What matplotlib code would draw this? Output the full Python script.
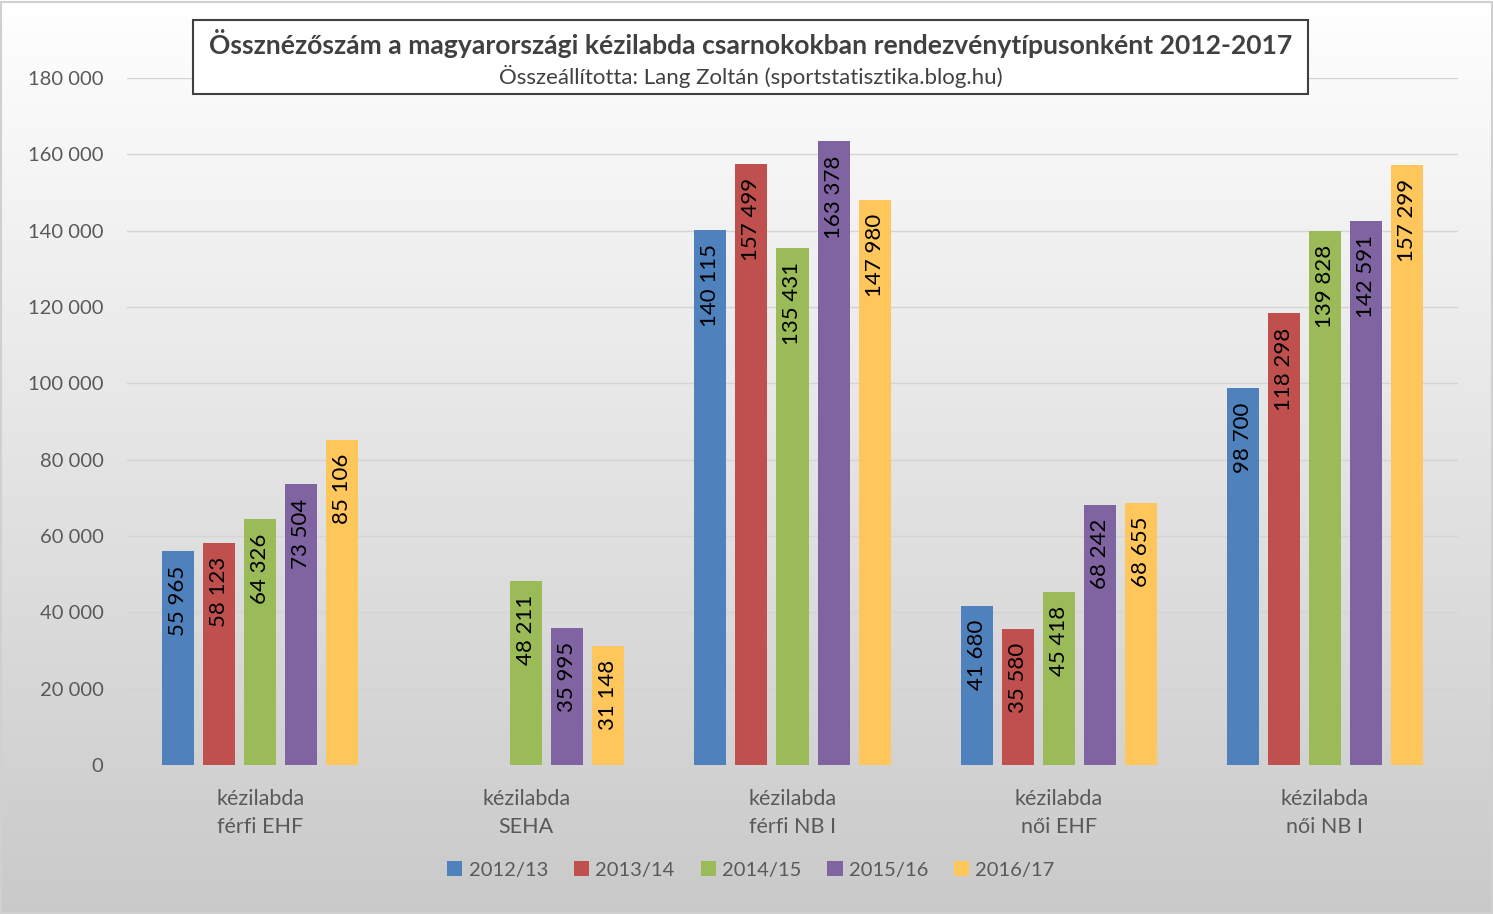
import matplotlib
matplotlib.use("Agg")
import matplotlib.pyplot as plt
import numpy as np
from matplotlib.patches import Rectangle
from matplotlib.ticker import FuncFormatter

categories = ["kézilabda\nférfi EHF", "kézilabda\nSEHA", "kézilabda\nférfi NB I",
              "kézilabda\nnői EHF", "kézilabda\nnői NB I"]
seasons = ["2012/13", "2013/14", "2014/15", "2015/16", "2016/17"]
v2012 = [55965, None, 140115, 41680, 98700]
v2013 = [58123, None, 157499, 35580, 118298]
v2014 = [64326, 48211, 135431, 45418, 139828]
v2015 = [73504, 35995, 163378, 68242, 142591]
v2016 = [85106, 31148, 147980, 68655, 157299]
series = [v2012, v2013, v2014, v2015, v2016]
colors = ["#4F81BD", "#C0504D", "#9BBB59", "#8064A2", "#FFC65C"]

title = "Össznézőszám a magyarországi kézilabda csarnokokban rendezvénytípusonként 2012-2017"
subtitle = "Összeállította: Lang Zoltán (sportstatisztika.blog.hu)"

plt.rcParams['font.family'] = ['Lato', 'DejaVu Sans']

W, H = 1493, 914
fig = plt.figure(figsize=(W / 100, H / 100), dpi=100)

# background gradient
bg = fig.add_axes([0, 0, 1, 1], zorder=-10)
grad = np.linspace(0, 1, 256).reshape(-1, 1)
top = np.array([1.0, 1.0, 1.0])
bot = np.array([0.79, 0.79, 0.79])
img = top[None, None, :] * (1 - grad[:, :, None]) + bot[None, None, :] * grad[:, :, None]
bg.imshow(img, aspect='auto', extent=[0, 1, 0, 1], origin='upper')
bg.set_xlim(0, 1); bg.set_ylim(0, 1)
bg.axis('off')
bg.add_patch(Rectangle((0.001, 0.001), 0.998, 0.997, fill=False, edgecolor="#d0d0d0", lw=1.5,
                       transform=bg.transAxes))

ax = fig.add_axes([127 / W, 1 - 765 / H, (1458 - 127) / W, (765 - 78) / H])
ax.patch.set_alpha(0)

x = np.arange(len(categories))
step = 41 / 266
bw = 32 / 266
for i, (vals, c, lab) in enumerate(zip(series, colors, seasons)):
    xs = x + (i - 2) * step
    hs = [v if v is not None else 0 for v in vals]
    ax.bar(xs, hs, width=bw, color=c, label=lab, zorder=3)
    for xi, v in zip(xs, vals):
        if v is None:
            continue
        txt = f"{v:,}".replace(",", " ")
        ax.annotate(txt, (xi, v), xytext=(0, -10), textcoords='offset points',
                    rotation=90, ha='center', va='top', fontsize=16, color='black', zorder=4)

ax.set_xlim(-0.5, 4.5)
ax.set_ylim(0, 180000)
ax.set_yticks(np.arange(0, 180001, 20000))
ax.yaxis.set_major_formatter(FuncFormatter(lambda v, p: f"{int(v):,}".replace(",", " ")))
ax.grid(axis='y', color='#d4d4d4', lw=1, zorder=0)
for s in ax.spines.values():
    s.set_visible(False)
ax.tick_params(axis='y', length=0, pad=17, labelsize=14.5, labelcolor='#595959')
ax.set_xticks(x)
ax.set_xticklabels(categories, linespacing=1.5)
ax.tick_params(axis='x', length=0, pad=17, labelsize=15.5, labelcolor='#595959')

leg = fig.legend(loc='center', bbox_to_anchor=(0.503, 1 - 870 / H), ncol=5, frameon=False,
                 fontsize=14.5, handlelength=0.75, handleheight=0.75, handletextpad=0.3,
                 columnspacing=1.3, labelcolor='#595959')

# title box
fig.patches.append(Rectangle((193 / W, 1 - 94 / H), (1308 - 193) / W, (94 - 20) / H,
                             transform=fig.transFigure, facecolor='white',
                             edgecolor='#404040', lw=1.5, zorder=5))
fig.text(750.5 / W, 1 - 44 / H, title, ha='center', va='center', fontsize=19.1,
         fontweight='bold', color='#404040', zorder=6)
fig.text(750.5 / W, 1 - 76 / H, subtitle, ha='center', va='center', fontsize=16,
         color='#404040', zorder=6)

fig.savefig("out.png", dpi=100)
